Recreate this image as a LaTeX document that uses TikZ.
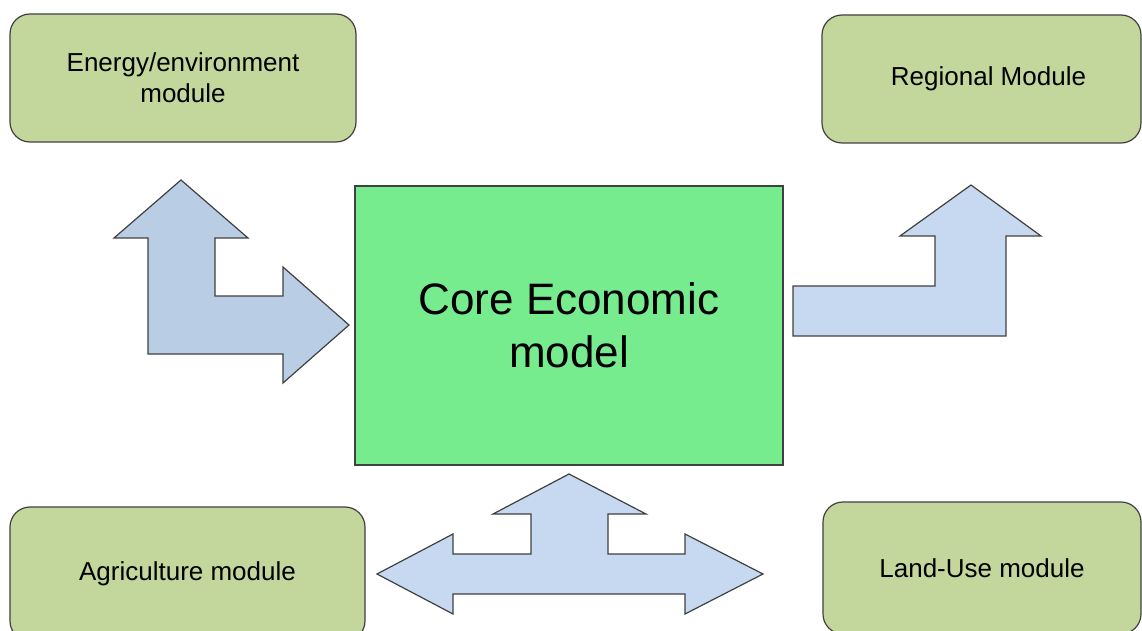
\documentclass[tikz,border=0pt]{standalone}
\usepackage{fontspec}
\setmainfont{Liberation Sans}
\definecolor{modGreen}{RGB}{195,214,155}
\definecolor{coreGreen}{RGB}{119,236,142}
\definecolor{arrowBlue}{RGB}{185,205,229}
\definecolor{arrowLight}{RGB}{198,217,241}
\definecolor{edgeGray}{RGB}{64,64,64}
\usetikzlibrary{positioning}

\begin{document}
\begin{tikzpicture}[x=0.5pt, y=-0.5pt,
    module/.style={rectangle, rounded corners=10pt, draw=edgeGray, fill=modGreen,
                   line width=0.6pt, font=\fontsize{13}{15.5}\selectfont, align=center,
                   minimum height=64pt},
    core/.style={rectangle, draw=edgeGray, fill=coreGreen, line width=0.6pt,
                 minimum width=214pt, minimum height=139.5pt, align=center,
                 font=\fontsize{22}{26.5}\selectfont},
    blockarrow/.style={draw=edgeGray, line width=0.6pt, line join=miter}
  ]
  \clip (0,0) rectangle (1142,631);

  % modules
  \node[module, minimum width=173pt]   (energy)   at (183,78)    {Energy/environment\\module};
  \node[module, minimum width=159.5pt] (regional) at (981.5,79)  {\hspace{7pt}Regional Module};
  \node[module, minimum width=177.5pt, minimum height=67pt] (agri) at (187.5,574) {Agriculture module};
  \node[module, minimum width=159pt, minimum height=66pt] (landuse) at (982,568) {Land-Use module};

  % core model
  \node[core] (core) at (569,325.5) {Core Economic\\model};

  % block arrows
  \draw[blockarrow, fill=arrowBlue]
    (181,180) -- (248,238) -- (215,238) -- (215,296) -- (283,296) -- (283,267)
    -- (349,325) -- (283,383) -- (283,354) -- (148,354) -- (148,238) -- (114,238) -- cycle;
  \draw[blockarrow, fill=arrowLight]
    (971,185) -- (1041,236) -- (1006,236) -- (1006,336) -- (793,336) -- (793,286)
    -- (935,286) -- (935,236) -- (900,236) -- cycle;
  \draw[blockarrow, fill=arrowLight]
    (569,474) -- (646,514) -- (608,514) -- (608,554) -- (685,554) -- (685,534)
    -- (763,574) -- (685,614) -- (685,594) -- (453,594) -- (453,614) -- (377,574)
    -- (453,534) -- (453,554) -- (531,554) -- (531,514) -- (493,514) -- cycle;
\end{tikzpicture}
\end{document}
